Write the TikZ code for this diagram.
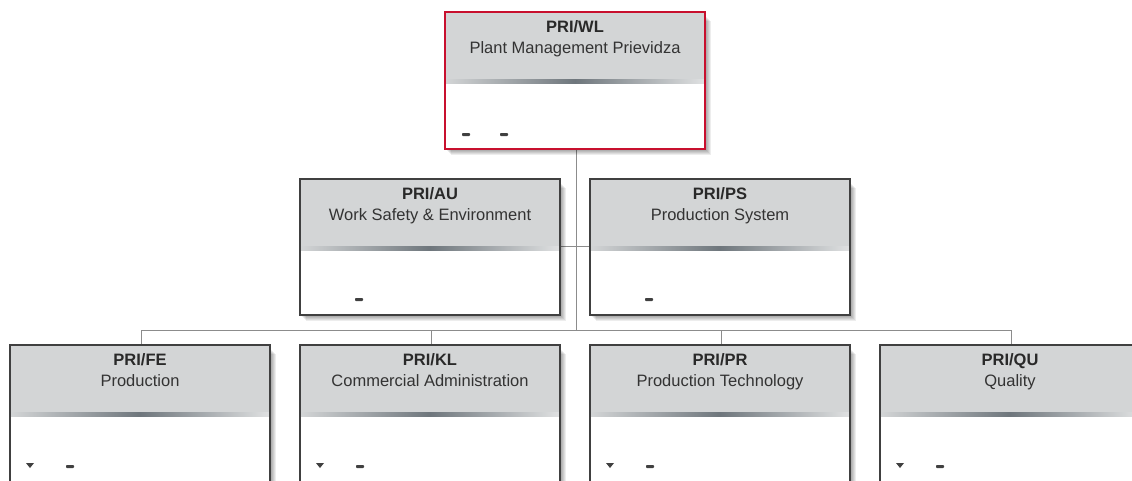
\documentclass[tikz,border=0pt]{standalone}
\usepackage{fontspec}
\setmainfont{Liberation Sans}
\usetikzlibrary{calc}
\definecolor{hdr}{HTML}{D3D5D6}
\definecolor{bandc}{HTML}{6E767C}
\definecolor{edgec}{HTML}{404040}
\definecolor{redge}{HTML}{C8102E}
\definecolor{connc}{HTML}{8C8C8C}
\definecolor{txt}{HTML}{333333}
\tikzset{
  unit/.style={rectangle, inner sep=0pt, outer sep=0pt, minimum width=260pt, anchor=north west},
  connector/.style={draw=connc, line width=1pt},
  titletext/.style={inner sep=0pt, anchor=base, text=txt!80!black, font=\fontsize{16.5}{19}\selectfont\bfseries},
  subtext/.style={inner sep=0pt, anchor=base, text=txt, font=\fontsize{16.5}{19}\selectfont},
  mark dash/.style={fill=edgec, rounded corners=0.8pt},
}
\newcommand{\orgunit}[7]{%
  \node[unit, minimum height=#7pt] (#1) at (#2,#3) {};
  \foreach \s in {1,...,6}{\fill[black,opacity=0.07] ($(#1.north west)+(\s,\s+3)$) rectangle ($(#1.south east)+(\s,\s)$);}
  \fill[white] (#1.north west) rectangle (#1.south east);
  \fill[hdr] (#1.north west) rectangle ($(#1.north east)+(0,67)$);
  \shade[left color=hdr, right color=hdr!70!white, middle color=bandc] ($(#1.north west)+(0,67)$) rectangle ($(#1.north east)+(0,71)$);
  \node[titletext] (#1-t) at ($(#1.north)+(0,20.5)$) {#5};
  \node[subtext] (#1-s) at ($(#1.north)+(0,41.5)$) {#6};
  \draw[#4, line width=2pt] (#1.north west) rectangle (#1.south east);
}
\newcommand{\dashat}[3]{\fill[mark dash] ($(#1.north west)+(#2,#3)$) rectangle ++(8,3);}
\newcommand{\triat}[3]{\fill[edgec] ($(#1.north west)+(#2,#3)$) -- ++(8,0) -- ++(-4,5) -- cycle;}
\begin{document}
\begin{tikzpicture}[x=1pt,y=-1pt]
\clip (0,0) rectangle (1132,480);
\fill[white] (0,0) rectangle (1132,480);
% connectors (drawn first, behind boxes)
\coordinate (bus) at (576,330);
\coordinate (busL) at (141,330);
\coordinate (busR) at (1011,330);
\coordinate (wlbot) at (576,149);
\coordinate (c2) at (431,330);
\coordinate (c3) at (721,330);
\coordinate (fetop) at (141,345);
\coordinate (kltop) at (431,345);
\coordinate (prtop) at (721,345);
\coordinate (qutop) at (1011,345);
\coordinate (aur) at (560,246);
\coordinate (psl) at (590,246);
\draw[connector] (wlbot) -- (bus);
\draw[connector] (aur) -- (psl);
\draw[connector] (busL) -- (busR);
\draw[connector] (busL) -- (fetop);
\draw[connector] (c2) -- (kltop);
\draw[connector] (c3) -- (prtop);
\draw[connector] (busR) -- (qutop);
% boxes
\orgunit{wl}{445}{12}{redge}{PRI/WL}{Plant Management Prievidza}{137}
\orgunit{au}{300}{179}{edgec}{PRI/AU}{Work Safety \& Environment}{136}
\orgunit{ps}{590}{179}{edgec}{PRI/PS}{Production System}{136}
\orgunit{fe}{10}{345}{edgec}{PRI/FE}{Production}{145}
\orgunit{kl}{300}{345}{edgec}{PRI/KL}{Commercial Administration}{145}
\orgunit{pr}{590}{345}{edgec}{PRI/PR}{Production Technology}{145}
\orgunit{qu}{880}{345}{edgec}{PRI/QU}{Quality}{145}
% markers
\dashat{wl}{17}{121}
\dashat{wl}{55}{121}
\dashat{au}{55}{119}
\dashat{ps}{55}{119}
\triat{fe}{16}{118}\dashat{fe}{56}{120}
\triat{kl}{16}{118}\dashat{kl}{56}{120}
\triat{pr}{16}{118}\dashat{pr}{56}{120}
\triat{qu}{16}{118}\dashat{qu}{56}{120}
\end{tikzpicture}
\end{document}
